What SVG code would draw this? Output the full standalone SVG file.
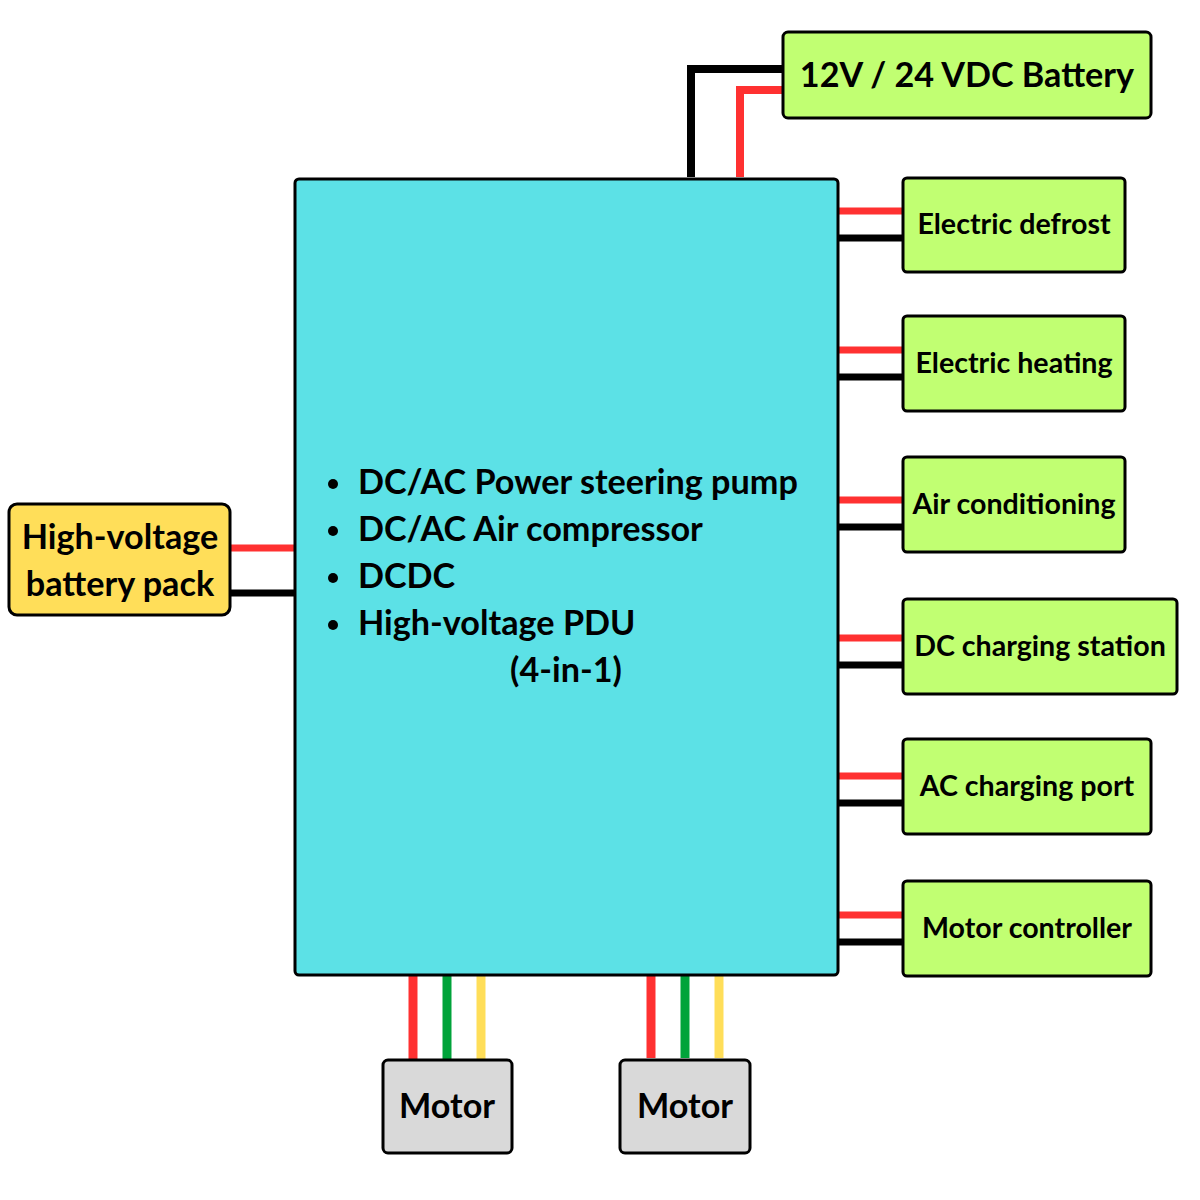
<svg xmlns="http://www.w3.org/2000/svg" width="1200" height="1200" viewBox="0 0 1200 1200">
<style>
  .box{stroke:#000;stroke-width:3}
  .main{fill:#5CE1E6}
  .green{fill:#C1FF72}
  .yellow{fill:#FFDE59}
  .grey{fill:#D9D9D9}
  text{font-family:Lato,"Open Sans","Liberation Sans",sans-serif;font-weight:bold;fill:#000}
  .t32{font-size:34.2px}
  .t26{font-size:28.6px}
  .w{fill:none;stroke-width:7}
  .wm{fill:none;stroke-width:9}
  .r{stroke:#FF3131}
  .k{stroke:#000}
  .g{stroke:#00A33A}
  .y{stroke:#FFDE59}
</style>
<rect width="1200" height="1200" fill="#fff"/>
<g id="connectors">
  <polyline class="w k" points="691,177 691,69 784,69" style="stroke-width:8"/>
  <polyline class="w r" points="740,177 740,90 784,90" style="stroke-width:8"/>
  <line class="w r" x1="231" y1="548" x2="295" y2="548"/>
  <line class="w k" x1="231" y1="593" x2="295" y2="593"/>
  <line class="w r" x1="838" y1="211" x2="903" y2="211"/>
  <line class="w k" x1="838" y1="238" x2="903" y2="238"/>
  <line class="w r" x1="838" y1="350" x2="903" y2="350"/>
  <line class="w k" x1="838" y1="377" x2="903" y2="377"/>
  <line class="w r" x1="838" y1="500" x2="903" y2="500"/>
  <line class="w k" x1="838" y1="527" x2="903" y2="527"/>
  <line class="w r" x1="838" y1="638" x2="903" y2="638"/>
  <line class="w k" x1="838" y1="665" x2="903" y2="665"/>
  <line class="w r" x1="838" y1="776" x2="903" y2="776"/>
  <line class="w k" x1="838" y1="803" x2="903" y2="803"/>
  <line class="w r" x1="838" y1="915" x2="903" y2="915"/>
  <line class="w k" x1="838" y1="942" x2="903" y2="942"/>
  <line class="wm r" x1="413" y1="975" x2="413" y2="1060"/>
  <line class="wm g" x1="447" y1="975" x2="447" y2="1060"/>
  <line class="wm y" x1="481" y1="975" x2="481" y2="1060"/>
  <line class="wm r" x1="651" y1="975" x2="651" y2="1058"/>
  <line class="wm g" x1="685" y1="975" x2="685" y2="1058"/>
  <line class="wm y" x1="719" y1="975" x2="719" y2="1058"/>
</g>
<g id="main">
  <rect class="box main" x="295" y="179" width="543" height="796" rx="4"/>
  <text class="t32" x="358" y="494">DC/AC Power steering pump</text>
  <text class="t32" x="358" y="541">DC/AC Air compressor</text>
  <text class="t32" x="358" y="588">DCDC</text>
  <text class="t32" x="358" y="635">High-voltage PDU</text>
  <text class="t32" x="510" y="682">(4-in-1)</text>
  <circle cx="333" cy="484" r="5"/>
  <circle cx="333" cy="531" r="5"/>
  <circle cx="333" cy="578" r="5"/>
  <circle cx="333" cy="625" r="5"/>
</g>
<g id="battery12v">
  <rect class="box green" x="783" y="32" width="368" height="86" rx="5"/>
  <text class="t32" x="967" y="87" text-anchor="middle">12V / 24 VDC Battery</text>
</g>
<g id="hv-battery">
  <rect class="box yellow" x="9" y="504" width="221" height="111" rx="8"/>
  <text class="t32" x="120" y="549" text-anchor="middle">High-voltage</text>
  <text class="t32" x="120" y="596" text-anchor="middle">battery pack</text>
</g>
<g id="defrost">
  <rect class="box green" x="903" y="178" width="222" height="94" rx="4"/>
  <text class="t26" x="1014" y="234" text-anchor="middle">Electric defrost</text>
</g>
<g id="heating">
  <rect class="box green" x="903" y="316" width="222" height="95" rx="4"/>
  <text class="t26" x="1014" y="373" text-anchor="middle">Electric heating</text>
</g>
<g id="aircon">
  <rect class="box green" x="903" y="457" width="222" height="95" rx="4"/>
  <text class="t26" x="1014" y="514" text-anchor="middle">Air conditioning</text>
</g>
<g id="dc-charging">
  <rect class="box green" x="903" y="599" width="274" height="95" rx="4"/>
  <text class="t26" x="1040" y="656" text-anchor="middle">DC charging station</text>
</g>
<g id="ac-charging">
  <rect class="box green" x="903" y="739" width="248" height="95" rx="4"/>
  <text class="t26" x="1027" y="796" text-anchor="middle">AC charging port</text>
</g>
<g id="motor-controller">
  <rect class="box green" x="903" y="881" width="248" height="95" rx="4"/>
  <text class="t26" x="1027" y="938" text-anchor="middle">Motor controller</text>
</g>
<g id="motor1">
  <rect class="box grey" x="383" y="1060" width="129" height="93" rx="5"/>
  <text class="t32" x="447" y="1118" text-anchor="middle">Motor</text>
</g>
<g id="motor2">
  <rect class="box grey" x="620" y="1060" width="130" height="93" rx="5"/>
  <text class="t32" x="685" y="1118" text-anchor="middle">Motor</text>
</g>
</svg>
